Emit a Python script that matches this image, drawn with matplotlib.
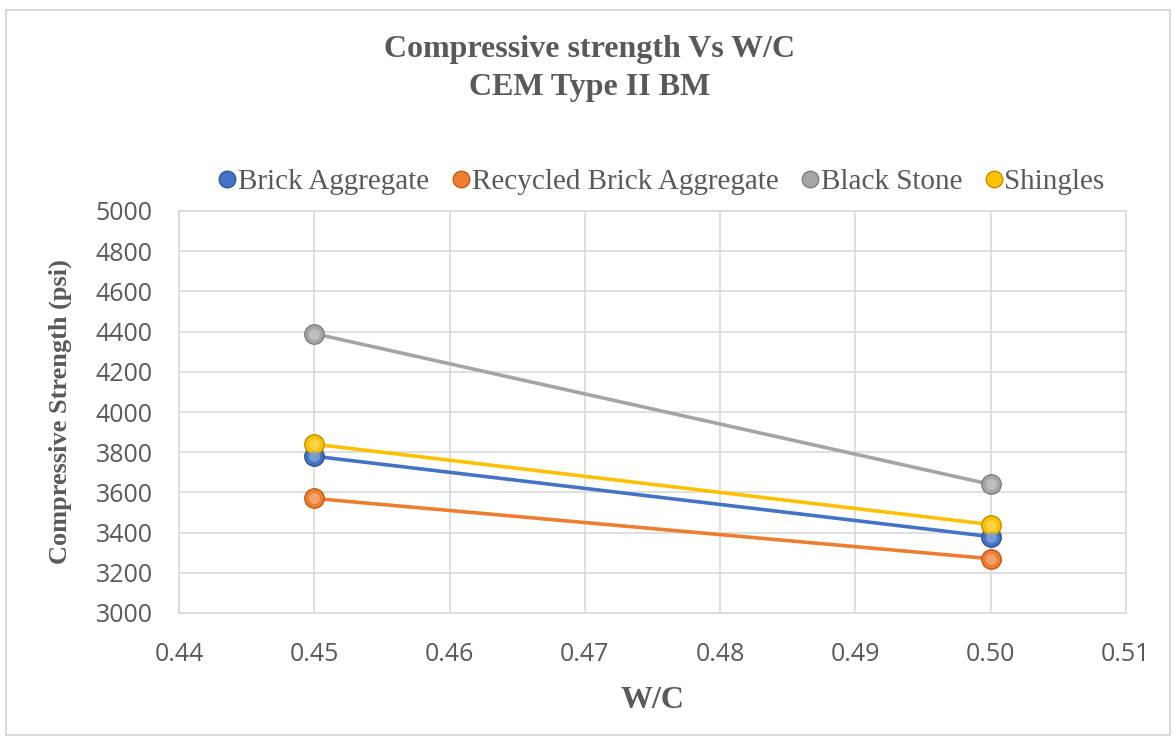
import matplotlib
matplotlib.use("Agg")
import matplotlib.pyplot as plt
from matplotlib.patches import Rectangle
import matplotlib.colors as mcolors

wc = [0.45, 0.50]
brick = [3780, 3380]
recycled = [3570, 3270]
black_stone = [4390, 3640]
shingles = [3840, 3440]

series_names = ["Brick Aggregate", "Recycled Brick Aggregate", "Black Stone", "Shingles"]
series_vals = [brick, recycled, black_stone, shingles]
colors = ["#4472C4", "#ED7D31", "#A5A5A5", "#FFC000"]
edge_colors = ["#2F5597", "#C55A11", "#7F7F7F", "#BF9000"]

xticks = [0.44, 0.45, 0.46, 0.47, 0.48, 0.49, 0.50, 0.51]
yticks = list(range(3000, 5001, 200))

txt = "#595959"
serif = "Liberation Serif"
sans = "Open Sans"


def lighter(c, f):
    r, g, b = mcolors.to_rgb(c)
    return (r + (1 - r) * f, g + (1 - g) * f, b + (1 - b) * f)


fig = plt.figure(figsize=(11.74, 7.38), dpi=100)
fig.patches.append(Rectangle((6/1174, 3/738), 1164/1174, 725/738, transform=fig.transFigure,
                             fill=False, edgecolor="#D9D9D9", linewidth=1.5))
ax = fig.add_axes([179/1174, 1 - 613/738, (1126 - 179)/1174, (613 - 211)/738])

for name, vals, c, ec in zip(series_names, series_vals, colors, edge_colors):
    ax.plot(wc, vals, color=c, linewidth=2.6, marker="o", markersize=14,
            markerfacecolor=c, markeredgecolor=ec, markeredgewidth=1.0, label=name, zorder=3)
    # shading highlight to imitate the glossy ball marker
    ax.plot(wc, vals, linestyle="none", marker="o", markersize=8,
            markerfacecolor=lighter(c, 0.35), markeredgewidth=0, alpha=0.8, zorder=4)

ax.set_xlim(0.44, 0.51)
ax.set_ylim(3000, 5000)
ax.set_xticks(xticks)
ax.set_xticklabels([f"{t:.2f}" for t in xticks])
ax.set_yticks(yticks)
ax.grid(True, color="#D9D9D9", linewidth=1.2)
ax.set_axisbelow(True)
for s in ax.spines.values():
    s.set_color("#D9D9D9")
    s.set_linewidth(1.2)
ax.tick_params(length=0, colors=txt, labelsize=18)
ax.tick_params(axis="y", pad=19)
ax.tick_params(axis="x", pad=21)
for lab in ax.get_xticklabels() + ax.get_yticklabels():
    lab.set_fontfamily(sans)

ax.set_xlabel("W/C", fontfamily=serif, fontweight="bold", fontsize=23, color=txt)
ax.xaxis.set_label_coords(0.5, (613 - 686) / 402)
ax.set_ylabel("Compressive Strength (psi)", fontfamily=serif, fontweight="bold", fontsize=19,
              color=txt)
ax.yaxis.set_label_coords((72 - 179) / 947, 0.5)

fig.text(590/1174, 1 - 50/738, "Compressive strength Vs W/C", ha="center", va="center",
         fontfamily=serif, fontweight="bold", fontsize=23, color=txt)
fig.text(590/1174, 1 - 88/738, "CEM Type II BM", ha="center", va="center",
         fontfamily=serif, fontweight="bold", fontsize=23, color=txt)

leg = ax.legend(handles=ax.lines[0::2], loc="center", bbox_to_anchor=(662/1174, 1 - 182/738),
                bbox_transform=fig.transFigure,
                ncol=4, frameon=False, prop={"family": serif, "size": 21},
                handlelength=0.55, handletextpad=0.1, columnspacing=0.8, markerscale=0.85)
for t in leg.get_texts():
    t.set_color(txt)
for h in leg.legend_handles:
    h.set_linestyle("none")

fig.savefig("out.png", dpi=100)
